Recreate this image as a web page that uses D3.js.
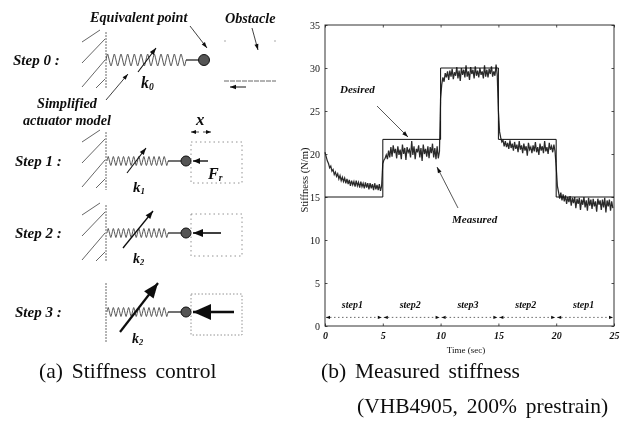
<!DOCTYPE html>
<html>
<head>
<meta charset="utf-8">
<script src="https://d3js.org/d3.v7.min.js"></script>
<style>
  html, body { margin: 0; padding: 0; background: #fff; }
  svg { display: block; }
  text { font-family: "Liberation Serif", serif; fill: #111; }
  .lbl { font-weight: bold; font-style: italic; }
  .axis path { display: none; }
  .axis line { stroke: #222; stroke-width: 0.8; }
  .axis text { font-size: 10px; font-family: "Liberation Serif", serif; }
</style>
</head>
<body>
<svg width="624" height="421"></svg>
<script>
var width = 624, height = 421;

// chart data
var xTicks = [0, 5, 10, 15, 20, 25];
var yTicks = [0, 5, 10, 15, 20, 25, 30, 35];
var desiredTime = [0, 5, 5, 10, 10, 15, 15, 20, 20, 25];
var desiredVals = [15, 15, 21.7, 21.7, 30, 30, 21.7, 21.7, 15, 15];
var sampleStep = 0.1;   // sec between measured samples
var measStep1a = [20.2,19.7,19.2,18.9,18.4,18.6,18.0,18.2,17.6,17.9,17.4,17.7,17.1,17.5,16.9,17.3,16.8,17.2,16.6,17.1,16.5,17.0,16.3,16.9,16.4,16.8,16.2,16.9,16.3,16.7,16.1,16.8,16.2,16.6,16.0,16.7,16.1,16.6,15.9,16.6,16.0,16.5,15.8,16.6,15.9,16.4,15.8,16.5,15.7,16.3];
var measStep2a = [18.9,19.3,19.5,19.9,19.4,20.4,19.6,20.8,19.7,21.0,20.1,20.6,19.5,20.9,19.9,20.5,19.4,21.1,20.0,20.7,19.3,20.8,20.2,20.5,19.6,21.5,19.9,20.9,19.4,20.6,20.2,21.0,19.6,20.7,19.2,21.1,20.0,20.6,19.7,20.9,19.5,20.8,20.1,21.2,19.6,20.7,19.4,20.9,19.5,20.3];
var measStep3a = [26.5,28.1,28.9,28.4,29.4,28.9,29.6,28.6,29.7,29.0,29.9,28.7,29.5,29.1,30.1,28.8,29.7,28.5,30.0,29.2,29.8,28.9,30.3,29.0,29.6,28.6,30.1,29.3,29.8,28.8,30.2,29.1,29.7,28.9,30.0,29.2,29.6,28.8,30.3,29.0,29.8,28.9,29.9,29.3,30.2,29.0,29.6,29.1,30.4,29.2];
var measStep2b = [25.0,22.6,21.9,21.4,21.6,20.9,21.5,20.8,21.3,20.6,21.6,20.7,21.2,20.4,21.4,20.6,21.1,20.2,21.5,20.5,21.0,20.1,21.2,20.4,20.9,19.8,21.3,20.5,20.8,20.1,21.0,20.3,21.4,20.2,20.8,19.9,21.2,20.4,20.9,20.1,21.5,20.3,20.8,20.0,21.3,20.5,20.9,20.2,21.1,20.3];
var measStep1b = [18.5,16.3,15.6,14.8,15.5,14.6,15.3,14.5,15.2,14.2,15.0,14.4,15.1,14.0,14.9,14.3,15.0,13.7,14.8,14.2,14.9,13.5,14.7,14.1,15.0,13.8,14.6,13.4,14.9,14.0,14.7,13.6,14.8,13.9,14.5,13.3,14.8,14.1,14.6,13.5,14.7,13.8,14.9,13.2,14.6,13.9,14.7,13.4,14.5,13.7];
var stepNames = ["step1", "step2", "step3", "step2", "step1"];
var stepEdges = [0, 5, 10, 15, 20, 25];

var measured = [].concat(measStep1a, measStep2a, measStep3a, measStep2b, measStep1b);

var svg = d3.select("svg");

svg.append("defs").append("filter").attr("id", "scan")
    .append("feGaussianBlur").attr("stdDeviation", 0.4);

var root = svg.append("g").attr("filter", "url(#scan)");

/* plot ===================================== */
var x = d3.scaleLinear().domain([0, 25]).range([325, 614]);
var y = d3.scaleLinear().domain([0, 35]).range([326, 25]);

var plot = root.append("g");

plot.append("rect")
    .attr("x", x(0)).attr("y", y(35))
    .attr("width", x(25) - x(0)).attr("height", y(0) - y(35))
    .attr("fill", "none").attr("stroke", "#333").attr("stroke-width", 1);

plot.append("g").attr("class", "axis")
    .attr("transform", "translate(0," + y(0) + ")")
    .call(d3.axisBottom(x).tickValues(xTicks).tickSize(-2.5).tickPadding(6))
    .selectAll("text").attr("font-style", "italic").style("font-weight", "bold");

plot.append("g").attr("class", "axis")
    .attr("transform", "translate(" + x(0) + ",0)")
    .call(d3.axisLeft(y).tickValues(yTicks).tickSize(-2.5).tickPadding(5));

plot.append("g").attr("class", "axis")
    .attr("transform", "translate(0," + y(35) + ")")
    .call(d3.axisTop(x).tickValues(xTicks).tickSize(-2.5).tickFormat(""));

plot.append("g").attr("class", "axis")
    .attr("transform", "translate(" + x(25) + ",0)")
    .call(d3.axisRight(y).tickValues(yTicks).tickSize(-2.5).tickFormat(""));

var line = d3.line();

plot.append("path")
    .attr("d", line(measured.map(function(v, i) { return [x(i * sampleStep), y(v)]; })))
    .attr("fill", "none").attr("stroke", "#2a2a2a").attr("stroke-width", 1.25);

plot.append("path")
    .attr("d", line(desiredTime.map(function(t, i) { return [x(t), y(desiredVals[i])]; })))
    .attr("fill", "none").attr("stroke", "#111").attr("stroke-width", 1);

plot.append("text").attr("x", 466).attr("y", 353)
    .attr("text-anchor", "middle").attr("font-size", 9).text("Time (sec)");

plot.append("text")
    .attr("transform", "translate(308,180) rotate(-90)")
    .attr("text-anchor", "middle").attr("font-size", 10.5).text("Stiffness (N/m)");

// step brackets along the bottom
stepNames.forEach(function(name, i) {
  var x0 = x(stepEdges[i]), x1 = x(stepEdges[i + 1]);
  plot.append("line")
      .attr("x1", x0 + 1).attr("x2", x1 - 1).attr("y1", y(1)).attr("y2", y(1))
      .attr("stroke", "#444").attr("stroke-width", 0.8).attr("stroke-dasharray", "1.5 2.5");
  arrowHead(plot, x0 + 5, y(1), x0 + 1, y(1), 4, 1.7);
  arrowHead(plot, x1 - 5, y(1), x1 - 1, y(1), 4, 1.7);
  plot.append("text").attr("class", "lbl")
      .attr("x", (x0 + x1) / 2 - 1.5).attr("y", 308)
      .attr("text-anchor", "middle").attr("font-size", 10).text(name);
});

plot.append("text").attr("class", "lbl").attr("x", 340).attr("y", 93)
    .attr("font-size", 11).text("Desired");
arrow(plot, 377, 106, 408, 137, 0.7, 6, 2);

plot.append("text").attr("class", "lbl").attr("x", 452).attr("y", 223)
    .attr("font-size", 11).text("Measured");
arrow(plot, 458, 208, 437, 167, 0.7, 6, 2);

/* schematic ================================= */
var diagram = root.append("g");

var stepRows = [
  { label: "Step 0 :", labelX: 13, wall: [32, 88], hatch: true, cy: 60, x0: 106, x1: 186, stem: 199, ball: 204, r: 5.5, amp: 6, coils: 24 },
  { label: "Step 1 :", labelX: 15, wall: [132, 190], hatch: true, cy: 161, x0: 107, x1: 168, stem: 181, ball: 186, r: 5, amp: 4.5, coils: 24 },
  { label: "Step 2 :", labelX: 15, wall: [205, 262], hatch: true, cy: 233, x0: 107, x1: 168, stem: 181, ball: 186, r: 5, amp: 4.5, coils: 24 },
  { label: "Step 3 :", labelX: 15, wall: [283, 342], hatch: false, cy: 312, x0: 107, x1: 168, stem: 181, ball: 186, r: 5, amp: 4.5, coils: 24 }
];

// hatch strokes, offset from the wall top
var hatchLines = [[-24, 10, -6, -2], [-24, 31, -1, 7], [-24, 55, -1, 28], [-10, 56, -1, 47]];

stepRows.forEach(function(r) {
  diagram.append("text").attr("class", "lbl")
      .attr("x", r.labelX).attr("y", r.cy + 5).attr("font-size", 15).text(r.label);
  diagram.append("line")
      .attr("x1", 106).attr("x2", 106).attr("y1", r.wall[0]).attr("y2", r.wall[1])
      .attr("stroke", "#444").attr("stroke-width", 0.8).attr("stroke-dasharray", "2 1");
  if (r.hatch) {
    hatchLines.forEach(function(h) {
      diagram.append("line")
          .attr("x1", 106 + h[0]).attr("y1", r.wall[0] + h[1])
          .attr("x2", 106 + h[2]).attr("y2", r.wall[0] + h[3])
          .attr("stroke", "#555").attr("stroke-width", 0.9);
    });
  }
  diagram.append("path").attr("d", spring(r.x0, r.x1, r.cy, r.amp, r.coils))
      .attr("fill", "none").attr("stroke", "#444").attr("stroke-width", 0.9);
  diagram.append("line")
      .attr("x1", r.x1).attr("x2", r.stem).attr("y1", r.cy).attr("y2", r.cy)
      .attr("stroke", "#111").attr("stroke-width", 1.2);
  diagram.append("circle").attr("cx", r.ball).attr("cy", r.cy).attr("r", r.r)
      .attr("fill", "#555").attr("stroke", "#111").attr("stroke-width", 1);
});

// obstacles
[[191, 142, 51, 41, "1.5 3"], [191, 214, 51, 42, "1.5 3"], [191, 294, 51, 41, "1.5 2"]].forEach(function(b) {
  diagram.append("rect")
      .attr("x", b[0]).attr("y", b[1]).attr("width", b[2]).attr("height", b[3])
      .attr("fill", "none").attr("stroke", "#777").attr("stroke-width", 0.8)
      .attr("stroke-dasharray", b[4]);
});
diagram.append("line").attr("x1", 224).attr("x2", 276).attr("y1", 81).attr("y2", 81)
    .attr("stroke", "#666").attr("stroke-width", 1).attr("stroke-dasharray", "5 1");
[225, 275].forEach(function(px) {
  diagram.append("circle").attr("cx", px).attr("cy", 41).attr("r", 0.7).attr("fill", "#888");
});

// spring stiffness arrows
arrow(diagram, 138, 72, 156, 48, 1.1, 7, 2.5);
arrow(diagram, 127, 173, 146, 148, 1.1, 7, 2.5);
arrow(diagram, 123, 248, 153, 211, 1.3, 8, 3);
arrow(diagram, 120, 332, 158, 283, 2.2, 15, 6);

// reaction forces
arrow(diagram, 208, 161, 193, 161, 1.4, 7, 3);
arrow(diagram, 221, 233, 193, 233, 1.6, 10, 4);
arrow(diagram, 234, 312, 193, 312, 2.4, 18, 8);

// pointers
arrow(diagram, 190, 26, 207, 48, 0.8, 6, 2);
arrow(diagram, 252, 28, 258, 50, 0.8, 6, 2);
arrow(diagram, 246, 87, 230, 87, 1, 6, 2.2);
arrow(diagram, 106, 100, 128, 74, 0.8, 6, 2);
arrow(diagram, 199, 132, 191, 132, 0.8, 5, 2);
arrow(diagram, 203, 132, 211, 132, 0.8, 5, 2);

function boldLabel(txt, px, py, size) {
  diagram.append("text").attr("class", "lbl")
      .attr("x", px).attr("y", py).attr("font-size", size).text(txt);
}
boldLabel("Equivalent point", 90, 22, 14.2);
boldLabel("Obstacle", 225, 23, 14.2);
boldLabel("Simplified", 37, 108, 14.2);
boldLabel("actuator model", 23, 125, 14.2);
boldLabel("x", 196, 125, 17);
subLabel("k", "0", 141, 88, 16);
subLabel("k", "1", 133, 192, 15);
subLabel("F", "r", 208, 179, 16);
subLabel("k", "2", 133, 263, 14);
subLabel("k", "2", 132, 343, 14);

function subLabel(main, sub, px, py, size) {
  var t = diagram.append("text").attr("class", "lbl")
      .attr("x", px).attr("y", py).attr("font-size", size).text(main);
  t.append("tspan").attr("font-size", size * 0.6).attr("dy", 2).text(sub);
}

/* captions ================================== */
var captions = [
  ["(a) Stiffness control", 39, 378],
  ["(b) Measured stiffness", 321, 378],
  ["(VHB4905, 200% prestrain)", 357, 413]
];
root.selectAll(".cap").data(captions).enter().append("text")
    .attr("class", "cap")
    .attr("x", function(d) { return d[1]; })
    .attr("y", function(d) { return d[2]; })
    .attr("font-size", 21.5).attr("word-spacing", 3.5)
    .text(function(d) { return d[0]; });

/*============== helpers ================*/
function spring(x0, x1, cy, amp, n) {
  var pts = [[x0, cy]];
  for (var i = 0; i < n; i++) {
    pts.push([x0 + (i + 0.5) * (x1 - x0) / n, cy + (i % 2 ? amp : -amp)]);
  }
  pts.push([x1, cy]);
  return d3.line().curve(d3.curveCardinal.tension(0.4))(pts);
}

function arrowHead(g, xa, ya, xb, yb, len, half) {
  var a = Math.atan2(yb - ya, xb - xa);
  var bx = xb - len * Math.cos(a), by = yb - len * Math.sin(a);
  var nx = -Math.sin(a) * half, ny = Math.cos(a) * half;
  g.append("path")
      .attr("d", "M" + xb + "," + yb + "L" + (bx + nx) + "," + (by + ny) + "L" + (bx - nx) + "," + (by - ny) + "Z")
      .attr("fill", "#111");
}

function arrow(g, xa, ya, xb, yb, w, len, half) {
  g.append("line")
      .attr("x1", xa).attr("y1", ya).attr("x2", xb).attr("y2", yb)
      .attr("stroke", "#111").attr("stroke-width", w);
  arrowHead(g, xa, ya, xb, yb, len, half);
}
</script>
</body>
</html>
